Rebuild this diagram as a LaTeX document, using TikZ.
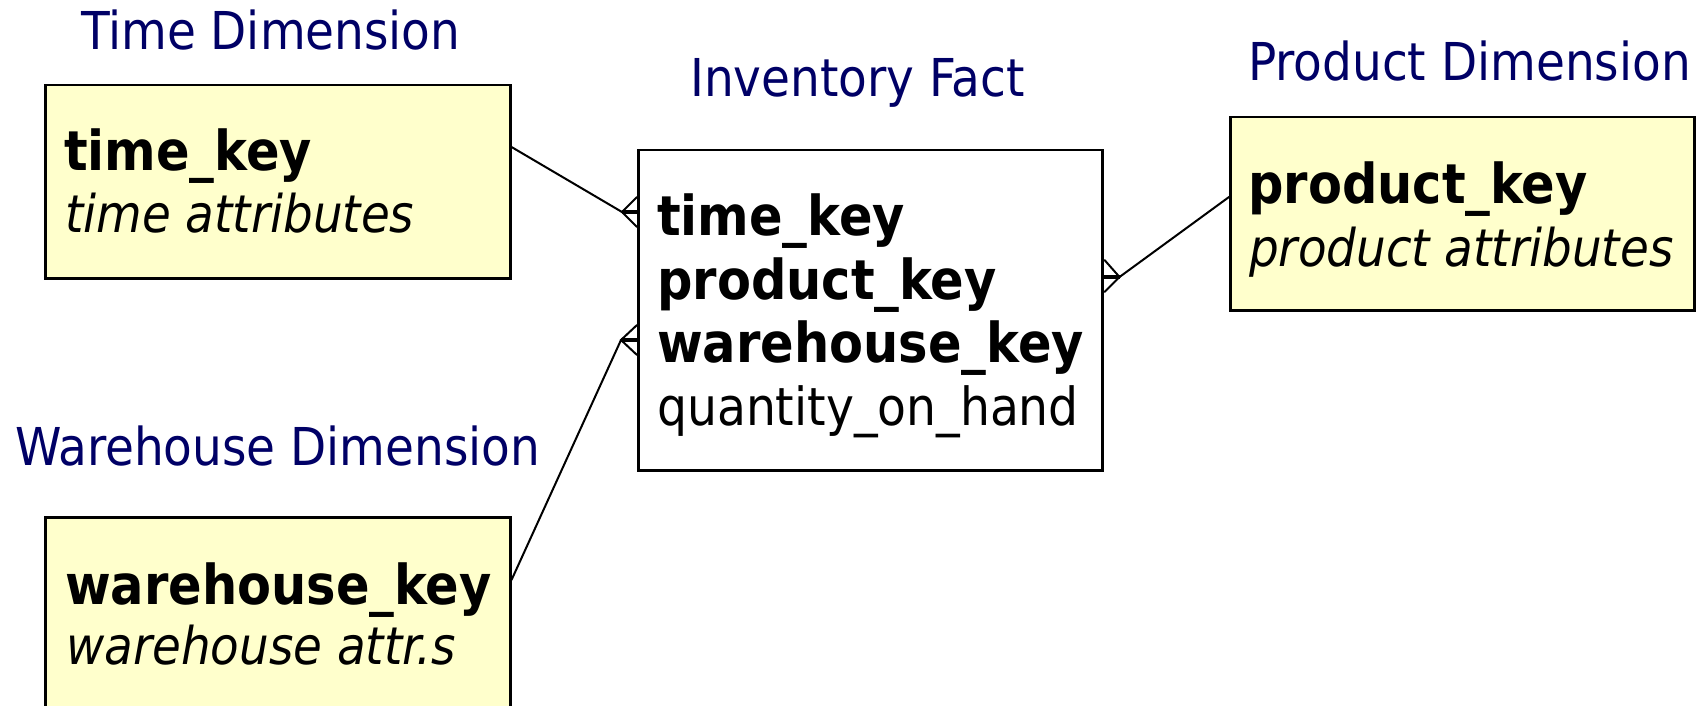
\documentclass[tikz,border=0pt]{standalone}
\usepackage{fontspec}
\setmainfont{DejaVu Sans Condensed}
\usetikzlibrary{calc}
\definecolor{navy}{RGB}{0,0,102}
\definecolor{dimfill}{RGB}{255,255,204}
\begin{document}
\begin{tikzpicture}[x=1pt,y=-1pt,
  dimbox/.style={draw=black, line width=2.5pt, fill=dimfill, inner sep=0pt, anchor=north west},
  factbox/.style={draw=black, line width=2.5pt, fill=white, inner sep=0pt, anchor=north west},
  title/.style={text=navy, font=\fontsize{52.2}{52}\selectfont, anchor=base west, inner sep=0pt},
  keytxt/.style={font=\fontsize{55}{55}\selectfont\bfseries, anchor=base west, inner sep=0pt},
  attrtxt/.style={font=\fontsize{52}{52}\selectfont\itshape, anchor=base west, inner sep=0pt},
  plaintxt/.style={font=\fontsize{52.5}{52}\selectfont, anchor=base west, inner sep=0pt},
  link/.style={line width=2pt, line cap=round},
  stub/.style={line width=3.5pt}]
\useasboundingbox (0,0) rectangle (1701,706);
\clip (0,0) rectangle (1701,706);

% boxes
\node[dimbox, minimum width=465pt, minimum height=193pt] (time) at (44,84) {};
\node[factbox, minimum width=464pt, minimum height=320pt] (inv) at (637,149) {};
\node[dimbox, minimum width=464pt, minimum height=193pt] (prod) at (1229,116) {};
\node[dimbox, minimum width=465pt, minimum height=230pt] (wh) at (44,516) {};

% titles
\node[title] (timeT) at (81,50) {Time Dimension};
\node[title] (invT) at (690,97) {Inventory Fact};
\node[title] (prodT) at (1248,81) {Product Dimension};
\node[title] (whT) at (15,465) {Warehouse Dimension};

% box contents
\node[keytxt] (timeK) at (64,171) {time\_key};
\node[attrtxt] (timeA) at (65,232) {time attributes};

\node[keytxt] (invK1) at (657,235) {time\_key};
\node[keytxt] (invK2) at (657,299) {product\_key};
\node[keytxt] (invK3) at (657,362) {warehouse\_key};
\node[plaintxt] (invQ) at (657,425) {quantity\_on\_hand};

\node[keytxt] (prodK) at (1248,204) {product\_key};
\node[attrtxt] (prodA) at (1249,266) {product attributes};

\node[keytxt] (whK) at (65,604) {warehouse\_key};
\node[attrtxt] (whA) at (66,664) {warehouse attr.s};

% crow's foot points
\coordinate (c1) at ($(inv.north west)+(-15,63)$);
\coordinate (c2) at ($(inv.north east)+(16,128)$);
\coordinate (c3) at ($(inv.north west)+(-16,191)$);

% connectors
\draw[link] ($(time.north east)+(0,63)$) -- (c1);
\draw[link] ($(c1)+(15,-15)$) -- (c1) -- ($(c1)+(15,15)$);
\draw[stub] (c1) -- (c1 -| inv.west);

\draw[link] ($(prod.north west)+(0,81)$) -- (c2);
\draw[link] ($(c2)+(-15,-17)$) -- (c2) -- ($(c2)+(-15,15)$);
\draw[stub] (c2) -- (c2 -| inv.east);

\draw[link] ($(wh.north east)+(0,64)$) -- (c3);
\draw[link] ($(c3)+(16,-15)$) -- (c3) -- ($(c3)+(16,15)$);
\draw[stub] (c3) -- (c3 -| inv.west);
\end{tikzpicture}
\end{document}
